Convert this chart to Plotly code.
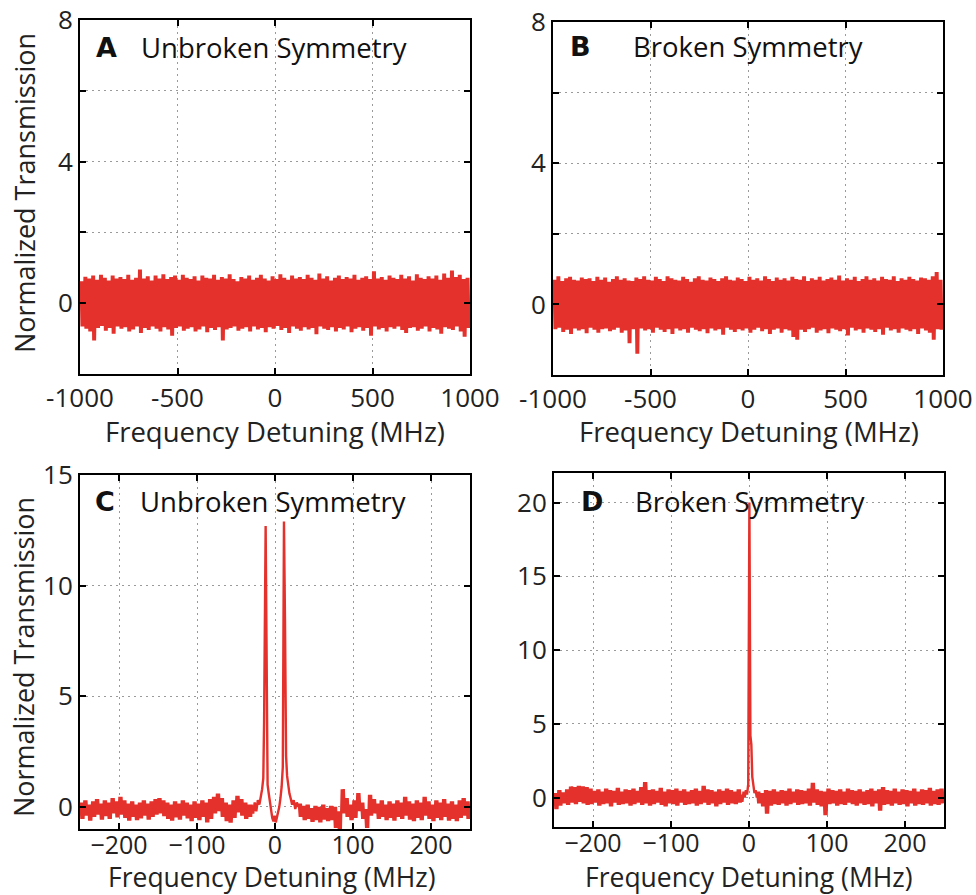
import plotly.graph_objects as go

RED = "#E4312B"
FONT = "Open Sans"

# ---------------- Panel A (Unbroken symmetry, wide scan) ----------------
A_x_span = [-1000, 1000]
A_upper = [0.62,0.75,0.70,0.78,0.66,0.80,0.72,0.64,0.78,0.70,
           0.74,0.68,0.80,0.66,0.72,0.95,0.70,0.76,0.64,0.78,
           0.70,0.82,0.68,0.74,0.78,0.66,0.80,0.72,0.68,0.76,
           0.64,0.78,0.72,0.70,0.80,0.66,0.74,0.70,0.82,0.68,
           0.62,0.74,0.70,0.78,0.66,0.72,0.80,0.70,0.64,0.76,
           0.68,0.82,0.72,0.66,0.78,0.70,0.74,0.68,0.80,0.72,
           0.66,0.84,0.70,0.76,0.64,0.72,0.78,0.68,0.74,0.70,
           0.80,0.66,0.72,0.76,0.68,0.90,0.70,0.74,0.66,0.78,
           0.72,0.68,0.80,0.70,0.76,0.64,0.82,0.72,0.68,0.76,
           0.70,0.78,0.66,0.84,0.72,0.92,0.74,0.80,0.68,0.72]
A_lower = [-0.66,-0.72,-0.80,-1.05,-0.70,-0.64,-0.78,-0.70,-0.86,-0.66,
           -0.72,-0.68,-0.80,-0.74,-0.66,-0.84,-0.70,-0.76,-0.66,-0.72,
           -0.80,-0.68,-0.74,-0.92,-0.70,-0.66,-0.78,-0.72,-0.68,-0.80,
           -0.74,-0.66,-0.82,-0.70,-0.76,-0.68,-1.05,-0.74,-0.70,-0.66,
           -0.78,-0.72,-0.68,-0.80,-0.66,-0.74,-0.70,-0.82,-0.68,-0.72,
           -0.64,-0.76,-0.70,-0.84,-0.66,-0.72,-0.78,-0.68,-0.74,-0.70,
           -0.88,-0.66,-0.72,-0.76,-0.68,-0.80,-0.70,-0.74,-0.66,-0.82,
           -0.72,-0.68,-0.78,-0.70,-0.92,-0.66,-0.74,-0.70,-0.80,-0.68,
           -0.72,-0.66,-0.76,-0.84,-0.70,-0.68,-0.78,-0.72,-0.66,-0.80,
           -0.70,-0.74,-0.86,-0.68,-0.72,-0.76,-0.66,-0.80,-0.95,-0.70]

# ---------------- Panel B (Broken symmetry, wide scan) ----------------
B_x_span = [-1000, 1000]
B_upper = [0.70,0.80,0.66,0.74,0.78,0.70,0.68,0.76,0.72,0.74,
           0.66,0.78,0.70,0.76,0.64,0.72,0.80,0.70,0.74,0.68,
           0.66,0.76,0.72,0.80,0.70,0.68,0.78,0.72,0.66,0.80,
           0.74,0.70,0.68,0.78,0.72,0.64,0.74,0.80,0.70,0.68,
           0.76,0.72,0.66,0.74,0.80,0.70,0.68,0.76,0.72,0.66,
           0.78,0.70,0.74,0.68,0.80,0.72,0.66,0.76,0.70,0.74,
           0.68,0.78,0.72,0.70,0.80,0.66,0.74,0.70,0.78,0.68,
           0.72,0.76,0.70,0.82,0.68,0.74,0.70,0.78,0.66,0.72,
           0.80,0.70,0.74,0.68,0.78,0.72,0.70,0.80,0.66,0.74,
           0.70,0.78,0.72,0.68,0.76,0.74,0.70,0.80,0.92,0.70]
B_lower = [-0.70,-0.66,-0.78,-0.72,-0.84,-0.68,-0.74,-0.70,-0.82,-0.66,
           -0.72,-0.80,-0.70,-0.68,-0.76,-0.72,-0.66,-0.80,-0.74,-1.10,
           -0.70,-1.40,-0.68,-0.74,-0.70,-0.80,-0.66,-0.72,-0.78,-0.70,
           -0.84,-0.68,-0.74,-0.70,-0.80,-0.66,-0.72,-0.76,-0.70,-0.82,
           -0.68,-0.74,-0.70,-0.86,-0.66,-0.72,-0.78,-0.70,-0.74,-0.68,
           -0.80,-0.72,-0.66,-0.76,-0.70,-0.84,-0.72,-0.68,-0.80,-0.70,
           -0.74,-0.92,-1.00,-0.72,-0.78,-0.70,-0.66,-0.80,-0.74,-0.70,
           -0.82,-0.68,-0.72,-0.76,-0.70,-0.88,-0.66,-0.74,-0.70,-0.80,
           -0.68,-0.72,-0.78,-0.70,-0.86,-0.66,-0.74,-0.70,-0.80,-0.68,
           -0.72,-0.76,-0.70,-0.84,-0.68,-0.74,-0.80,-1.00,-0.70,-0.72]

# ---------------- Panel C (Unbroken symmetry, split resonances) ----------------
C_left_span = [-250, -30]
C_left_upper = [0.20,0.30,0.10,0.25,0.35,0.15,0.30,0.20,0.40,0.25,
                0.45,0.30,0.15,0.25,0.10,0.20,0.30,0.15,0.25,0.35,
                0.40,0.30,0.20,0.10,0.25,0.15,0.30,0.20,0.10,0.25,
                0.15,0.30,0.20,0.35,0.45,0.60,0.40,0.20,0.10,0.30,
                0.50,0.35,0.20,0.10]
C_left_lower = [-0.55,-0.40,-0.62,-0.45,-0.35,-0.58,-0.42,-0.55,-0.30,-0.48,
                -0.35,-0.50,-0.62,-0.45,-0.60,-0.52,-0.40,-0.58,-0.45,-0.35,
                -0.30,-0.42,-0.55,-0.62,-0.48,-0.58,-0.40,-0.52,-0.65,-0.50,
                -0.60,-0.45,-0.70,-0.55,-0.30,-0.20,-0.45,-0.65,-0.72,-0.50,
                -0.25,-0.40,-0.55,-0.45]
C_peak_x = [-30, -28, -26, -24, -22, -20, -18, -16.5, -15, -14, -12, -10.5, -9.5, -8,
            -6.5, -5, -3.5, -2, -0.5, 1, 2.5, 4, 5.5, 7, 8.5, 10, 11.5, 12.8, 14.2,
            15.5, 17, 18.5, 20, 22, 24, 26, 28, 30]
C_peak_y = [0.1, -0.3, 0.2, -0.2, 0.3, 0.1, 0.5, 0.8, 1.3, 3.8, 12.7, 2.0, 1.0, 0.6,
            0.2, -0.2, -0.5, -0.65, -0.4, -0.7, -0.5, -0.2, 0.0, 0.4, 0.9, 1.8, 12.9, 8.5, 2.3,
            1.4, 0.9, 0.6, 0.4, 0.1, 0.3, -0.1, 0.2, 0.0]
C_right_span = [30, 250]
C_right_upper = [0.15,0.05,0.10,-0.05,0.05,0.00,0.10,-0.05,0.05,0.00,
                 -0.20,0.80,0.40,0.10,0.30,0.62,0.20,-0.10,0.55,0.35,
                 0.15,0.30,0.10,0.25,0.15,0.30,0.20,0.45,0.25,0.15,
                 0.30,0.20,0.45,0.25,0.10,0.30,0.20,0.35,0.15,0.25,
                 0.10,0.30,0.40,0.25]
C_right_lower = [-0.45,-0.60,-0.55,-0.68,-0.60,-0.70,-0.58,-0.65,-0.60,-0.95,
                 -1.00,-0.30,-0.45,-0.60,-0.50,-0.20,-0.55,-0.95,-0.40,-0.30,
                 -0.55,-0.45,-0.60,-0.50,-0.62,-0.45,-0.55,-0.40,-0.58,-0.65,
                 -0.50,-0.60,-0.40,-0.55,-0.65,-0.50,-0.60,-0.45,-0.62,-0.55,
                 -0.65,-0.50,-0.40,-0.55]

# ---------------- Panel D (Broken symmetry, single resonance) ----------------
D_left_span = [-250, -10]
D_left_upper = [0.30,0.50,0.35,0.55,0.75,0.70,0.80,0.75,0.70,0.60,
                0.45,0.55,0.40,0.60,0.50,0.45,0.65,0.40,0.55,0.50,
                0.60,0.45,0.70,1.05,0.50,0.55,0.45,0.65,0.40,0.55,
                0.50,0.60,0.45,0.55,0.40,0.50,0.60,0.45,0.80,0.55,
                0.50,0.40,0.55,0.45,0.60,0.50,0.40,0.55]
D_left_lower = [-0.80,-0.55,-0.40,-0.50,-0.35,-0.45,-0.30,-0.40,-0.50,-0.45,
                -0.35,-0.55,-0.45,-0.40,-0.60,-0.35,-0.50,-0.45,-0.40,-0.55,
                -0.45,-0.35,-0.50,-0.40,-0.55,-0.45,-0.35,-0.50,-0.60,-0.40,
                -0.45,-0.55,-0.35,-0.50,-0.45,-0.40,-0.55,-0.45,-0.35,-0.50,
                -0.40,-0.60,-0.45,-0.35,-0.50,-0.40,-0.45,-0.35]
D_peak_x = [-10, -8.5, -7, -5.5, -4, -2.5, -1, 0.5, 1.8, 3.0, 4.2, 5.5, 7, 8.5, 10]
D_peak_y = [0.2, -0.3, 0.4, 0.0, 0.5, 0.2, 0.9, 20.0, 4.2, 3.6, 1.4, 1.0, 0.3, 0.5, 0.0]
D_right_span = [10, 250]
D_right_upper = [0.40,0.30,0.50,0.45,0.55,0.40,0.50,0.45,0.60,0.40,
                 0.55,0.50,0.45,0.60,1.00,0.55,0.45,0.40,0.60,0.50,
                 0.45,0.55,0.40,0.60,0.50,0.45,0.55,0.40,0.50,0.60,
                 0.45,0.55,0.70,0.50,0.45,0.60,0.40,0.55,0.50,0.45,
                 0.60,0.40,0.55,0.50,0.65,0.45,0.55,0.60]
D_right_lower = [-0.40,-0.60,-1.10,-0.55,-0.45,-0.50,-0.40,-0.55,-0.45,-0.35,
                 -0.50,-0.45,-0.40,-0.55,-0.35,-0.50,-0.60,-1.20,-0.45,-0.40,
                 -0.55,-0.45,-0.50,-0.35,-0.45,-0.55,-0.40,-0.50,-0.45,-0.60,
                 -0.40,-0.90,-0.50,-0.45,-0.55,-0.40,-0.50,-0.45,-0.60,-0.40,
                 -0.55,-0.45,-0.50,-0.40,-0.55,-0.45,-0.50,-0.40]

# tick labels
wide_ticks = [-1000, -500, 0, 500, 1000]
wide_ticktext = ["-1000", "-500", "0", "500", "1000"]
narrow_ticks = [-200, -100, 0, 100, 200]
narrow_ticktext = ["\u2212200", "\u2212100", "0", "100", "200"]
A_yticks = [0, 2, 4, 6, 8]
A_yticktext = ["0", "", "4", "", "8"]
C_yticks = [0, 5, 10, 15]
D_yticks = [0, 5, 10, 15, 20]

panel_letters = ["A", "B", "C", "D"]
panel_titles = ["Unbroken Symmetry", "Broken Symmetry", "Unbroken Symmetry", "Broken Symmetry"]
x_title = "Frequency Detuning (MHz)"
y_title = "Normalized Transmission"


def band(span, upper, lower, sub=2):
    """Expand a noise envelope into a dense zig-zag trace."""
    n = len(upper)
    w = (span[1] - span[0]) / n
    xs, ys = [], []
    for i, (u, l) in enumerate(zip(upper, lower)):
        x0 = span[0] + w * i
        for k in range(sub):
            xs.append(x0 + w * (2 * k + 0.5) / (2 * sub))
            ys.append(u)
            xs.append(x0 + w * (2 * k + 1.5) / (2 * sub))
            ys.append(l)
    return xs, ys


W, H = 976, 895
fig = go.Figure()

line = dict(color=RED, width=2)

ax, ay = band(A_x_span, A_upper, A_lower)
fig.add_trace(go.Scatter(x=ax, y=ay, mode="lines", line=line, xaxis="x", yaxis="y"))
bx, by = band(B_x_span, B_upper, B_lower)
fig.add_trace(go.Scatter(x=bx, y=by, mode="lines", line=line, xaxis="x2", yaxis="y2"))

cl = band(C_left_span, C_left_upper, C_left_lower)
cr = band(C_right_span, C_right_upper, C_right_lower)
cx = cl[0] + C_peak_x + cr[0]
cy = cl[1] + C_peak_y + cr[1]
fig.add_trace(go.Scatter(x=cx, y=cy, mode="lines", line=dict(color=RED, width=2.4), xaxis="x3", yaxis="y3"))

dl = band(D_left_span, D_left_upper, D_left_lower)
dr = band(D_right_span, D_right_upper, D_right_lower)
dx = dl[0] + D_peak_x + dr[0]
dy = dl[1] + D_peak_y + dr[1]
fig.add_trace(go.Scatter(x=dx, y=dy, mode="lines", line=dict(color=RED, width=2.4), xaxis="x4", yaxis="y4"))

# panel boxes in pixels (left, top, right, bottom)
boxes = [(80, 20, 470, 374), (553, 22, 943, 375), (80, 475, 470, 829), (554, 473, 944, 827)]


def dom_x(b):
    return [b[0] / W, b[2] / W]


def dom_y(b):
    return [1 - b[3] / H, 1 - b[1] / H]


common = dict(showline=True, linecolor="black", linewidth=2, mirror="ticks",
              ticks="inside", ticklen=6, tickcolor="black", tickwidth=1.5,
              showgrid=True, gridcolor="#9a9a9a", griddash="2px,4px", gridwidth=1.3,
              zeroline=False, automargin=False)

xcfg = [
    dict(range=[-1000, 1000], tickvals=wide_ticks, ticktext=wide_ticktext,
         tickfont=dict(family=FONT, size=26, color="#222")),
    dict(range=[-1000, 1000], tickvals=wide_ticks, ticktext=wide_ticktext,
         tickfont=dict(family=FONT, size=26, color="#222")),
    dict(range=[-250, 250], tickvals=narrow_ticks, ticktext=narrow_ticktext, ticklabelstandoff=-7,
         tickfont=dict(family=FONT, size=25, color="#222")),
    dict(range=[-250, 250], tickvals=narrow_ticks, ticktext=narrow_ticktext, ticklabelstandoff=-7,
         tickfont=dict(family=FONT, size=25, color="#222")),
]
ycfg = [
    dict(range=[-2, 8], tickvals=A_yticks, ticktext=A_yticktext),
    dict(range=[-2, 8], tickvals=A_yticks, ticktext=A_yticktext),
    dict(range=[-1, 15], tickvals=C_yticks, ticktext=[str(v) for v in C_yticks]),
    dict(range=[-2, 22], tickvals=D_yticks, ticktext=[str(v) for v in D_yticks]),
]

layout = dict(width=W, height=H, autosize=False, margin=dict(l=0, r=0, t=0, b=0, pad=0, autoexpand=False),
              paper_bgcolor="white", plot_bgcolor="white", showlegend=False)
for i in range(4):
    sx = "" if i == 0 else str(i + 1)
    layout["xaxis" + sx] = dict(domain=dom_x(boxes[i]), anchor="y" + sx,
                               **xcfg[i], **common)
    layout["yaxis" + sx] = dict(domain=dom_y(boxes[i]), anchor="x" + sx,
                               tickfont=dict(family=FONT, size=26, color="#222"),
                               **ycfg[i], **common)
fig.update_layout(**layout)

ann = []
# panel letters and labels
letter_pos = [(106, 47), (580, 46), (105, 502), (592, 501)]
title_pos = [(274, 47), (748, 46), (273, 502), (750, 501)]
for i in range(4):
    ann.append(dict(text="<b>%s</b>" % panel_letters[i], x=letter_pos[i][0] / W, y=1 - letter_pos[i][1] / H,
                    xref="paper", yref="paper", showarrow=False, xanchor="center", yanchor="middle",
                    font=dict(family="DejaVu Sans", size=27, color="#111")))
    ann.append(dict(text=panel_titles[i], x=title_pos[i][0] / W, y=1 - title_pos[i][1] / H,
                    xref="paper", yref="paper", showarrow=False, xanchor="center", yanchor="middle",
                    font=dict(family=FONT, size=27.5, color="#111")))
# axis titles
for (cxp, cyp, fs) in [(275, 431, 27.5), (749, 431, 27.5), (272, 877, 26.5), (749, 877, 26.5)]:
    ann.append(dict(text=x_title, x=cxp / W, y=1 - cyp / H, xref="paper", yref="paper",
                    showarrow=False, xanchor="center", yanchor="middle",
                    font=dict(family=FONT, size=fs, color="#222")))
for (cxp, cyp) in [(24, 193), (23, 657)]:
    ann.append(dict(text=y_title, x=cxp / W, y=1 - cyp / H, xref="paper", yref="paper",
                    showarrow=False, xanchor="center", yanchor="middle", textangle=-90,
                    font=dict(family=FONT, size=27, color="#222")))
fig.update_layout(annotations=ann)

fig.write_html("out.html")
